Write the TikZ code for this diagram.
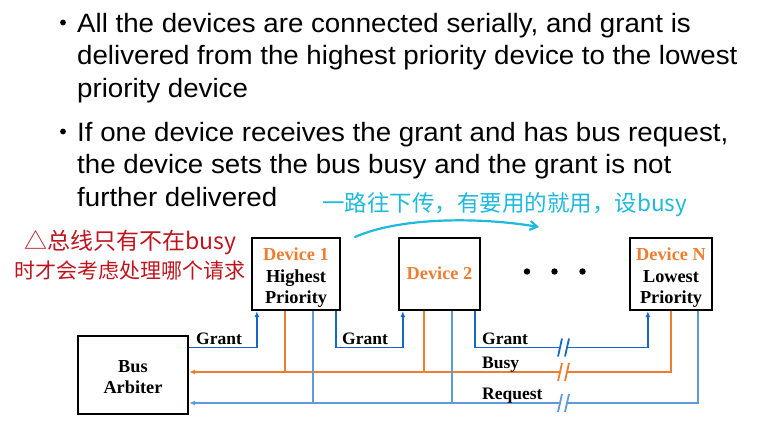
\documentclass[tikz,border=0pt]{standalone}
\usepackage{fontspec}
\setmainfont{Liberation Sans}
\newfontfamily\bfont[FakeStretch=1.045]{Liberation Sans}
\newfontfamily\tnr{Liberation Serif}
\newfontfamily\cjk{Noto Sans CJK SC}
\usetikzlibrary{arrows.meta,calc}
\definecolor{gblue}{RGB}{20,105,200}
\definecolor{rblue}{RGB}{95,155,215}
\definecolor{orng}{RGB}{237,125,49}
\definecolor{hred}{RGB}{190,20,30}
\definecolor{hcyan}{RGB}{30,185,220}
\tikzset{
  devbox/.style={draw=black,line width=2.3pt,inner sep=0pt},
  devtext/.style={inner sep=0pt,align=center,
    font=\tnr\bfseries\fontsize{18.3}{21.5}\selectfont},
  lbl/.style={anchor=base west,inner sep=0pt,font=\tnr\bfseries\fontsize{17.5}{20}\selectfont},
  grantw/.style={draw=gblue,line width=1.8pt},
  busyw/.style={draw=orng,line width=1.8pt},
  reqw/.style={draw=rblue,line width=1.8pt},
  tip/.style={-{Latex[length=6pt,width=5pt]}},
  btext/.style={anchor=base west,inner sep=0pt,font=\bfont\fontsize{26.5}{32}\selectfont},
  dot/.style={circle,fill=black,inner sep=0pt,minimum size=5.8pt},
  hand/.style={inner sep=0pt,anchor=west}
}
\begin{document}
\begin{tikzpicture}[x=1pt,y=-1pt]
\useasboundingbox (0,0) rectangle (777,424);
% bullets
\node[dot] (b1) at (63,22.5) {};
\node[btext] (t1a) at (77,32) {All the devices are connected serially, and grant is};
\node[btext] (t1b) at (77,64.5) {delivered from the highest priority device to the lowest};
\node[btext] (t1c) at (77,97) {priority device};
\node[dot] (b2) at (63,131.5) {};
\node[btext] (t2a) at (77,141) {If one device receives the grant and has bus request,};
\node[btext] (t2b) at (77,173.5) {the device sets the bus busy and the grant is not};
\node[btext] (t2c) at (77,206) {further delivered};
% handwritten notes
\node[hand,text=hred,font=\cjk\fontsize{23}{23}\selectfont] (n1) at (24,243) {△总线只有不在busy};
\node[hand,text=hred,font=\cjk\fontsize{21}{21}\selectfont] (n2) at (14,271) {时才会考虑处理哪个请求};
\node[hand,text=hcyan,font=\cjk\fontsize{22.5}{22}\selectfont] (n3) at (322,205) {一路往下传，有要用的就用，设busy};
\coordinate (as) at (355,237);
\coordinate (ae) at (539,227);
\draw[hcyan,line width=2.2pt,line cap=round,-{Straight Barb[length=7pt,width=9pt]}] (as) .. controls (400,217) and (480,217) .. (ae);
% boxes
\node[devbox,minimum width=88pt,minimum height=72pt] (dev1) at (296,274) {};
\node[devtext] (dev1t) at (296,278) {\textcolor{orng}{Device 1}\\Highest\\Priority};
\node[devbox,minimum width=81pt,minimum height=72pt] (dev2) at (439.5,274) {};
\node[devtext] (dev2t) at (439.5,273) {\textcolor{orng}{Device 2}};
\node[devbox,minimum width=82pt,minimum height=72pt] (devN) at (671,274) {};
\node[devtext] (devNt) at (671,278) {\textcolor{orng}{Device N}\\Lowest\\Priority};
\node[devbox,minimum width=110pt,minimum height=78pt] (arb) at (133,375) {};
\node[devtext] (arbt) at (133,377) {Bus\\Arbiter};
% dots
\fill (527,271.5) circle (3.2pt) (554.5,271.5) circle (3.2pt) (582.5,271.5) circle (3.2pt);
% wire levels
\coordinate (gy) at (0,347.5);
\coordinate (by) at (0,372);
\coordinate (ry) at (0,403);
% port coordinates
\coordinate (g1in) at ($(dev1.south west)+(6,0)$);
\coordinate (g1out) at ($(dev1.south east)+(-5,0)$);
\coordinate (g2in) at ($(dev2.south west)+(5,0)$);
\coordinate (g2out) at ($(dev2.south east)+(-6,0)$);
\coordinate (gNin) at ($(devN.south west)+(19,0)$);
\coordinate (b1p) at ($(dev1.south west)+(34,0)$);
\coordinate (b2p) at ($(dev2.south west)+(26,0)$);
\coordinate (bNp) at (devN.south);
\coordinate (r1p) at ($(dev1.south west)+(62,0)$);
\coordinate (r2p) at ($(dev2.south west)+(54,0)$);
\coordinate (rNp) at ($(devN.south east)+(-15,0)$);
% grant chain
\draw[grantw,tip] (arb.east |- gy) -| (g1in);
\draw[grantw,tip] (g1out) -- (g1out |- gy) -- (g2in |- gy) -- (g2in);
\draw[grantw,tip] (g2out) -- (g2out |- gy) -- (gNin |- gy) -- (gNin);
% busy
\draw[busyw,tip] (bNp) -- (bNp |- by) -- (arb.east |- by);
\draw[busyw] (b1p) -- (b1p |- by);
\draw[busyw] (b2p) -- (b2p |- by);
% request
\draw[reqw,tip] (rNp) -- (rNp |- ry) -- (arb.east |- ry);
\draw[reqw] (r1p) -- (r1p |- ry);
\draw[reqw] (r2p) -- (r2p |- ry);
% breaks
\foreach \yy/\cc in {347.5/gblue,372/orng,403/rblue}{
  \fill[white] (558,\yy+9) -- (565,\yy+9) -- (569,\yy-9) -- (562,\yy-9) -- cycle;
  \draw[\cc,line width=1.8pt] (558,\yy+9) -- (562,\yy-9) (565,\yy+9) -- (569,\yy-9);
}
% labels
\node[lbl] (lg1) at (196,344) {Grant};
\node[lbl] (lg2) at (342,344) {Grant};
\node[lbl] (lg3) at (482,344) {Grant};
\node[lbl] (lb) at (482,368) {Busy};
\node[lbl] (lr) at (482,399) {Request};
\end{tikzpicture}
\end{document}
